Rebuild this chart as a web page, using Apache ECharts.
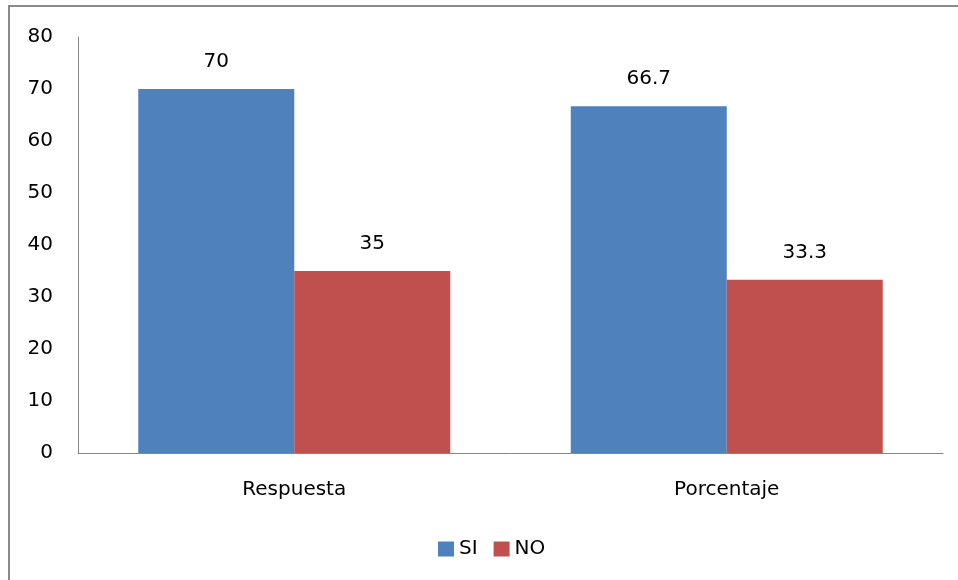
<!DOCTYPE html>
<html>
<head>
<meta charset="utf-8">
<script src="https://cdn.jsdelivr.net/npm/echarts@6/dist/echarts.min.js"></script>
<style>
  html, body { margin: 0; padding: 0; background: #fff; }
  #chart { width: 958px; height: 580px; }
</style>
</head>
<body>
<div id="chart"></div>
<script>
// Categories and series values
var categories = ['Respuesta', 'Porcentaje'];
var siValues = [70, 66.7];
var noValues = [35, 33.3];
var yTicks = { min: 0, max: 80, interval: 10 };

var FONT = 'DejaVu Sans';
var FS = 20;
var chart = echarts.init(document.getElementById('chart'), null, { renderer: 'canvas' });

chart.setOption({
  backgroundColor: '#ffffff',
  animation: false,
  textStyle: { fontFamily: FONT },
  graphic: [{
    type: 'rect',
    shape: { x: 9, y: 6, width: 960, height: 590 },
    style: { fill: 'none', stroke: '#8a8a8a', lineWidth: 2 },
    silent: true
  }],
  grid: { left: 78, right: 15, top: 37, bottom: 127, containLabel: false },
  legend: {
    top: 534,
    left: 433,
    itemWidth: 16,
    itemHeight: 15,
    itemGap: 16,
    icon: 'rect',
    textStyle: { fontFamily: FONT, fontSize: FS, color: '#000', padding: [0, 0, 0, 0] },
    data: ['SI', 'NO']
  },
  xAxis: {
    type: 'category',
    data: categories,
    axisLine: { lineStyle: { color: '#868686', width: 1 } },
    axisTick: { show: false },
    axisLabel: { fontFamily: FONT, fontSize: FS, color: '#000', margin: 27 }
  },
  yAxis: {
    type: 'value',
    min: yTicks.min,
    max: yTicks.max,
    interval: yTicks.interval,
    axisLine: { show: true, lineStyle: { color: '#868686', width: 1 } },
    axisTick: { show: false },
    splitLine: { show: false },
    axisLabel: { fontFamily: FONT, fontSize: FS, color: '#000', margin: 25 }
  },
  series: [
    {
      name: 'SI',
      type: 'bar',
      data: siValues,
      barWidth: 156,
      barGap: '0%',
      itemStyle: { color: '#4F81BD' },
      label: { show: true, position: 'top', distance: 17, fontFamily: FONT, fontSize: FS, color: '#000' }
    },
    {
      name: 'NO',
      type: 'bar',
      data: noValues,
      barWidth: 156,
      barGap: '0%',
      itemStyle: { color: '#C0504D' },
      label: { show: true, position: 'top', distance: 17, fontFamily: FONT, fontSize: FS, color: '#000' }
    }
  ]
});
</script>
</body>
</html>
